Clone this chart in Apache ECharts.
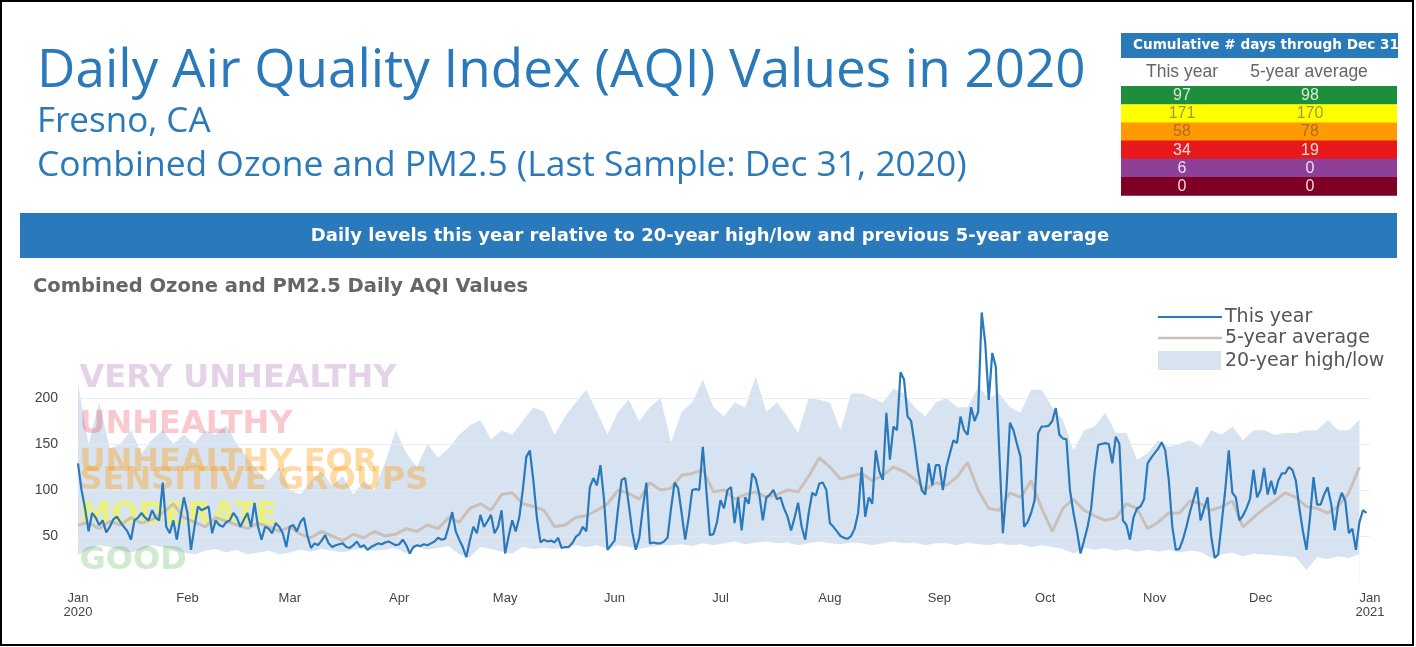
<!DOCTYPE html>
<html><head><meta charset="utf-8">
<script src="https://cdn.jsdelivr.net/npm/echarts@6/dist/echarts.min.js"></script>
<style>html,body{margin:0;padding:0;background:#fff}#chart{width:1416px;height:647px}</style>
</head><body><div id="chart"></div>
<script>
// ---- axis ticks ----
const monthStarts = [0,31,60,91,121,152,182,213,244,274,305,335,366];
const monthLabels = ['Jan\n2020','Feb','Mar','Apr','May','Jun','Jul','Aug','Sep','Oct','Nov','Dec','Jan\n2021'];
const yTickLabels = [50,100,150,200];

// ---- this year daily AQI (Jan 1 .. Dec 31, 2020) ----
const thisYear = [
129,100,80,55,75,70,62,67,54,60,68,71,65,60,55,46,67,70,75,70,67,78,70,67,108,60,53,67,46,70,92,
75,35,60,82,78,80,82,53,67,62,60,65,67,75,70,60,68,75,60,86,60,46,60,58,53,64,60,53,38,
60,62,55,65,70,50,37,42,40,45,51,42,38,40,41,42,38,37,40,44,38,40,35,38,40,42,41,43,44,42,40,
41,46,40,31,38,40,39,41,40,42,44,48,46,47,60,76,55,46,38,27,45,60,53,73,60,66,73,53,60,78,
31,50,67,55,70,100,136,143,110,70,43,46,44,45,43,48,37,38,38,42,49,52,60,55,103,113,105,127,90,35,40,
45,80,111,113,85,55,35,48,80,108,42,43,42,42,44,48,80,108,102,75,46,70,100,101,100,147,100,51,52,65,
89,80,100,103,64,92,56,92,85,118,112,95,67,92,95,100,90,92,80,71,56,70,86,60,46,75,97,94,107,108,100,
64,60,55,50,48,47,50,58,75,125,71,92,85,143,120,111,184,133,169,165,228,220,180,175,150,120,100,95,129,105,127,
127,100,125,140,154,151,180,165,160,190,175,185,293,260,198,249,234,140,53,100,173,165,150,136,60,65,75,89,162,169,
169,170,175,189,160,156,155,100,75,55,31,45,60,80,120,149,150,151,150,129,158,150,67,62,46,70,80,82,90,129,135,
140,145,152,143,111,60,35,36,46,60,76,90,103,67,80,92,50,26,30,65,100,143,97,92,67,72,80,90,122,92,
100,124,95,110,95,110,118,118,125,122,110,80,55,35,70,114,84,84,95,103,85,56,85,97,88,53,58,35,65,78,75
];

// ---- 5-year average, one value every 3 days ----
const avgStepDays = 3;
const fiveYearAvg = [
62,65,58,66,62,70,64,68,75,85,70,
65,60,70,66,62,58,64,60,55,
60,52,48,55,50,45,52,48,55,50,52,
58,55,62,58,70,65,80,85,78,95,
97,85,82,78,60,62,70,72,78,85,
100,96,90,108,100,102,116,118,122,98,
100,90,95,98,92,95,100,98,115,135,
125,112,115,118,110,116,125,120,112,100,108,
105,114,130,100,80,78,97,92,110,80,
55,80,90,78,72,67,70,85,80,58,
65,75,75,88,85,78,82,88,60,70,
80,88,97,92,82,80,75,82,97,125
];

// ---- 20-year high / low, one value every 3 days ----
const bandStepDays = 3;
const high20 = [
215,150,195,145,150,165,140,155,165,150,160,
150,165,160,170,150,135,120,110,125,
100,95,110,120,105,115,95,110,100,130,165,
140,125,150,135,145,160,170,176,155,165,
160,175,190,185,160,180,195,209,185,160,
185,198,175,190,200,152,185,195,220,190,
180,195,190,223,185,195,180,162,200,198,
195,165,205,205,200,195,210,205,190,180,195,
200,190,190,212,200,205,190,184,209,209,
190,176,143,165,169,184,162,162,133,140,
154,147,150,154,147,165,160,169,154,165,
165,160,162,162,165,165,176,165,165,176
];
const low20 = [
30,35,40,38,35,32,35,40,38,36,32,
30,34,36,32,35,30,32,34,30,
32,35,33,36,34,32,35,36,34,35,37,
31,38,35,37,39,30,27,38,36,33,
31,38,36,37,36,38,40,38,40,36,
40,38,36,38,40,40,41,39,42,40,
42,44,41,43,44,42,43,40,42,44,
42,41,43,42,40,42,44,42,43,40,42,
42,40,43,41,40,42,40,41,38,40,
38,36,31,37,35,37,34,36,33,35,
33,35,32,34,33,26,30,32,28,31,
30,29,28,27,13,27,25,28,26,30
];

// ---- AQI category annotations ----
const categoryNames = ['VERY UNHEALTHY','UNHEALTHY','UNHEALTHY FOR\nSENSITIVE GROUPS','MODERATE','GOOD'];
const categoryLevels = [221,171,120,72,23];
const categoryColors = ['rgba(150,70,160,0.30)','rgba(235,50,70,0.33)','rgba(255,153,0,0.45)','rgba(255,255,0,0.62)','rgba(40,160,40,0.28)'];

// ---- legend ----
const legendNames = ['This year','5-year average','20-year high/low'];

// ---- cumulative days table ----
const tableColumns = ['This year','5-year average'];
const daysThisYear = [97,171,58,34,6,0];
const daysFiveYear = [98,170,78,19,0,0];
const rowColors = ['#1f8e3c','#ffff00','#ff9a00','#e8191c','#8e3f98','#7e0124'];
const rowTextColors = ['#d8eed8','#9a9a35','#ad6a2e','#ffdede','#efe0f3','#f3d6dc'];

const BLUE = '#2a79bb';
const AVG = '#c9c1b9';
const BAND = '#d8e3f1';
const chart = echarts.init(document.getElementById('chart'), null, {renderer:'canvas'});

const thisYearData = thisYear.map((v,i)=>[i,v]);
const avgData = fiveYearAvg.map((v,i)=>[i*avgStepDays,v]);
const lowData = low20.map((v,i)=>[i*bandStepDays,v]);
const highData = high20.map((v,i)=>[i*bandStepDays,v]);

const graphics = [];
graphics.push({type:'rect', shape:{x:1,y:1,width:1412,height:644}, style:{fill:'none', stroke:'#000', lineWidth:2}, z:10});
graphics.push({type:'text', x:37, y:72, style:{text:'Daily Air Quality Index (AQI) Values in 2020', fill:BLUE, font:'normal 53px "Open Sans"', verticalAlign:'middle'}});
graphics.push({type:'text', x:37, y:122, style:{text:'Fresno, CA', fill:BLUE, font:'normal 35px "Open Sans"', verticalAlign:'middle'}});
graphics.push({type:'text', x:37, y:166, style:{text:'Combined Ozone and PM2.5 (Last Sample: Dec 31, 2020)', fill:BLUE, font:'normal 35.4px "Open Sans"', verticalAlign:'middle'}});
graphics.push({type:'rect', shape:{x:1121,y:33,width:277,height:25}, style:{fill:BLUE}});
graphics.push({type:'text', x:1133, y:45.5, style:{text:'Cumulative # days through Dec 31', fill:'#fff', font:'bold 13.6px "DejaVu Sans"', verticalAlign:'middle'}});
graphics.push({type:'text', x:1182, y:72, style:{text:tableColumns[0], fill:'#666', font:'17.5px "Liberation Sans"', align:'center', verticalAlign:'middle'}});
graphics.push({type:'text', x:1309, y:72, style:{text:tableColumns[1], fill:'#666', font:'17.5px "Liberation Sans"', align:'center', verticalAlign:'middle'}});
const rowTop = 86, rowH = 18.2;
rowColors.forEach((c,i)=>{
  graphics.push({type:'rect', shape:{x:1121,y:rowTop+i*rowH,width:276,height:rowH+0.5}, style:{fill:c}});
  graphics.push({type:'text', x:1182, y:rowTop+i*rowH+rowH/2+0.5, style:{text:String(daysThisYear[i]), fill:rowTextColors[i], font:'16px "Liberation Sans"', align:'center', verticalAlign:'middle'}});
  graphics.push({type:'text', x:1310, y:rowTop+i*rowH+rowH/2+0.5, style:{text:String(daysFiveYear[i]), fill:rowTextColors[i], font:'16px "Liberation Sans"', align:'center', verticalAlign:'middle'}});
});
graphics.push({type:'rect', shape:{x:20,y:213,width:1377,height:45}, style:{fill:BLUE}});
graphics.push({type:'text', x:710, y:236, style:{text:'Daily levels this year relative to 20-year high/low and previous 5-year average', fill:'#fff', font:'bold 18px "DejaVu Sans"', align:'center', verticalAlign:'middle'}});
graphics.push({type:'text', x:33, y:287, style:{text:'Combined Ozone and PM2.5 Daily AQI Values', fill:'#666', font:'bold 19.5px "DejaVu Sans"', verticalAlign:'middle'}});
// legend (drawn manually)
graphics.push({type:'line', shape:{x1:1158,y1:317,x2:1222,y2:317}, style:{stroke:BLUE, lineWidth:2}, z:6});
graphics.push({type:'line', shape:{x1:1158,y1:338,x2:1222,y2:338}, style:{stroke:AVG, lineWidth:2.5}, z:6});
graphics.push({type:'rect', shape:{x:1158,y:351,width:63,height:19}, style:{fill:BAND}, z:6});
[317,338,361].forEach((y,i)=>{
  graphics.push({type:'text', x:1225, y:y, style:{text:legendNames[i], fill:'#555', font:'19px "DejaVu Sans"', verticalAlign:'middle'}, z:6});
});

const gridColors = ['rgba(0,0,0,0)','rgba(232,234,238,0.85)','rgba(232,234,238,0.85)','rgba(232,234,238,0.85)','rgba(232,234,238,0.85)','rgba(0,0,0,0)','rgba(0,0,0,0)'];

chart.setOption({
  animation:false,
  backgroundColor:'#fff',
  graphic: graphics,
  grid:{left:78, right:46, top:306, bottom:65, containLabel:false},
  xAxis:{
    type:'value', min:0, max:366,
    axisLine:{show:false}, axisTick:{show:false}, splitLine:{show:false},
    axisLabel:{
      customValues: monthStarts,
      formatter: v => monthLabels[monthStarts.indexOf(v)] || '',
      color:'#444', fontSize:13, lineHeight:14, margin:9, fontFamily:'Liberation Sans'
    }
  },
  yAxis:{
    type:'value', min:0, max:300, interval:50, z:3,
    axisLine:{show:false}, axisTick:{show:false},
    axisLabel:{formatter: v => yTickLabels.indexOf(v) >= 0 ? String(v) : '', color:'#444', fontSize:14, margin:20, fontFamily:'Liberation Sans'},
    splitLine:{show:true, lineStyle:{color:gridColors, width:1}}
  },
  series:[
    {name:'20-year high', type:'line', data:highData, symbol:'none', lineStyle:{width:0, opacity:0},
     itemStyle:{color:BAND}, areaStyle:{color:BAND, opacity:1}, z:1, silent:true},
    {name:'20-year low', type:'line', data:lowData, symbol:'none', lineStyle:{width:0, opacity:0},
     itemStyle:{color:'#fff'}, areaStyle:{color:'#fff', opacity:1}, z:1, silent:true},
    {name:'categories', type:'scatter', symbolSize:1, itemStyle:{color:'rgba(0,0,0,0)'}, z:2, silent:true,
     data: categoryLevels.map((v,i)=>({value:[0,v], label:{color:categoryColors[i]}})),
     label:{show:true, position:'right', distance:1, formatter:p=>categoryNames[p.dataIndex],
            fontFamily:'DejaVu Sans', fontWeight:'bold', fontSize:32, lineHeight:18}},
    {name:'5-year average', type:'line', data:avgData, symbol:'none', lineStyle:{color:AVG, width:3}, itemStyle:{color:AVG}, z:4},
    {name:'This year', type:'line', data:thisYearData, symbol:'none', lineStyle:{color:BLUE, width:2.2}, itemStyle:{color:BLUE}, z:5}
  ]
});
</script></body></html>
